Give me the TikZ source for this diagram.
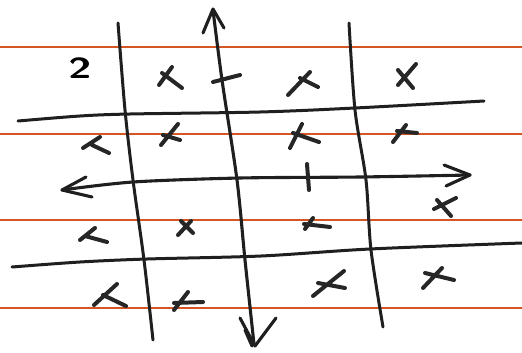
\documentclass[tikz,border=0pt]{standalone}
\usepackage{graphicx}
\begin{document}
\begin{tikzpicture}[x=1pt,y=-1pt,
  rule/.style={draw={rgb,255:red,212;green,86;blue,34},line width=1.8pt},
  ink/.style={draw=black!88,line width=3pt,line cap=round,line join=round},
  xmark/.style={draw=black!85,line width=4pt,line cap=round},
  axis/.style={draw=black!88,line width=3.1pt,line cap=round,line join=round}]
\useasboundingbox (0,0) rectangle (522,353);
% ruled paper lines
\foreach \yy in {47,134,220,308}{\draw[rule] (0,\yy) -- (522,\yy);}
% grid lines
\draw[ink] plot[smooth] coordinates {(118,23) (125,110) (133,180) (144,260) (153,340)};
\draw[ink] plot[smooth] coordinates {(349,23) (355,110) (366,180) (371,250) (383,327)};
\draw[ink] plot[smooth] coordinates {(18,121) (80,116) (130,114) (260,112) (355,108) (484,101)};
\draw[ink] plot[smooth] coordinates {(12,267) (80,262) (147,259) (261,256) (370,249) (522,243)};
% vertical axis
\coordinate (vtop) at (213,9);
\coordinate (vbot) at (255,346);
\draw[axis] plot[smooth] coordinates {(213,10) (222,80) (237,180) (245,260) (254,344)};
\draw[axis] (203,33) -- (vtop) -- (224,28);
\draw[axis] (240,318) -- (vbot) -- (276,318);
\draw[axis] (245,330) -- (252,346);
% horizontal axis
\coordinate (hleft) at (62,190);
\coordinate (hright) at (470,175);
\draw[axis] plot[smooth] coordinates {(62,190) (133,182) (240,178) (360,177) (470,175)};
\draw[axis] (86,177) -- (hleft) -- (92,197);
\draw[axis] (444,165) -- (hright) -- (446,186);
% axis ticks
\draw[xmark] (213,82) -- (240,75);
\draw[xmark] (307,164) -- (309,190);
% the 2
\node[inner sep=0pt] (two) at (80,68) {\scalebox{4.2}[2.9]{\sffamily\bfseries 2}};
% marks row 1
\draw[xmark] (159,85) -- (172,67) (162,73) -- (182,88);
\draw[xmark] (288,95) -- (310,72) (300,78) -- (318,87);
\draw[xmark] (398,85) -- (416,64) (398,70) -- (413,88);
% row 2
\draw[xmark] (83,148) -- (100,137) (92,145) -- (109,153);
\draw[xmark] (161,145) -- (178,124) (163,135) -- (180,140);
\draw[xmark] (290,148) -- (302,124) (293,133) -- (319,142);
\draw[xmark] (393,142) -- (406,125) (397,131) -- (417,133);
% row 3
\draw[xmark] (80,240) -- (95,228) (85,236) -- (107,242);
\draw[xmark] (178,235) -- (191,221) (181,221) -- (193,233);
\draw[xmark] (305,229) -- (313,218) (304,224) -- (330,227);
\draw[xmark] (434,209) -- (456,198) (437,200) -- (451,216);
% row 4
\draw[xmark] (94,305) -- (117,284) (103,295) -- (126,306);
\draw[xmark] (174,310) -- (188,292) (174,303) -- (203,302);
\draw[xmark] (313,296) -- (344,271) (318,283) -- (345,288);
\draw[xmark] (423,288) -- (442,268) (425,273) -- (454,280);
\end{tikzpicture}
\end{document}
